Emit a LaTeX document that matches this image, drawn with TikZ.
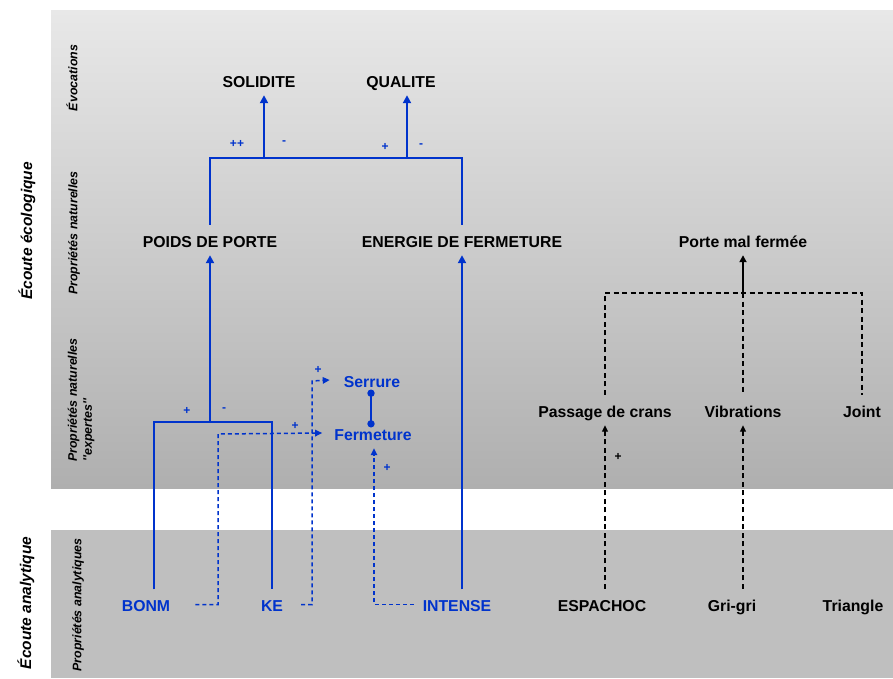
\documentclass[tikz,border=0pt]{standalone}
\usepackage{fontspec}
\setmainfont{Liberation Sans}
\newfontfamily\rawfont{Liberation Sans}[Ligatures=TeXOff]
\usetikzlibrary{arrows.meta,calc}
\definecolor{dblue}{RGB}{0,51,204}
\definecolor{bgtop}{RGB}{232,232,232}
\definecolor{bgbot}{RGB}{175,175,175}
\definecolor{bgana}{RGB}{191,191,191}
\begin{document}
\begin{tikzpicture}[x=1pt,y=-1pt,
 lbl/.style={font=\fontsize{15.8}{18}\selectfont\bfseries, text height=17pt, text depth=3pt, inner ysep=5pt, inner xsep=2pt, anchor=base},
 bluelbl/.style={lbl, text=dblue},
 sign/.style={font=\fontsize{12}{14}\selectfont\bfseries, inner sep=0pt},
 bluesign/.style={sign, text=dblue},
 rowlbl/.style={font=\fontsize{12.4}{15}\selectfont\bfseries\itshape, rotate=90, inner sep=0pt},
 biglbl/.style={font=\fontsize{15.5}{18}\selectfont\bfseries\itshape, rotate=90, inner sep=0pt},
 bsolid/.style={draw=dblue, line width=2.5pt},
 bsarrow/.style={bsolid, -{Triangle[length=8pt,width=8pt]}},
 bdash/.style={draw=dblue, line width=1.5pt, dash pattern=on 4pt off 3pt},
 bdarrow/.style={bdash, -{Triangle[length=7pt,width=6.5pt]}},
 ksarrow/.style={draw=black, line width=1.9pt, -{Triangle[length=7pt,width=7pt]}},
 kdash/.style={draw=black, line width=1.3pt, dash pattern=on 5pt off 3.5pt},
 kdarrow/.style={kdash, -{Triangle[length=6.5pt,width=6pt]}},
]
% background
\fill[white] (0,0) rectangle (893,678);
\shade[top color=bgtop, bottom color=bgbot] (51,10) rectangle (893,488);
\fill[bgana] (51,530) rectangle (893,678);
\useasboundingbox (0,0) rectangle (893,678);

% side labels
\node[biglbl] (ecol) at (27,231) {Écoute écologique};
\node[biglbl] (anal) at (26,603) {Écoute analytique};
\node[rowlbl] (evoc) at (72,78) {Évocations};
\node[rowlbl] (pnat) at (74,233) {Propriétés naturelles};
\node[rowlbl, align=left] (pexp) at (81,400) {Propriétés naturelles\\\rawfont''expertes''};
\node[rowlbl] (pana) at (78,605) {Propriétés analytiques};

% nodes
\node[lbl] (solidite) at (259,87) {SOLIDITE};
\node[lbl] (qualite) at (401,87) {QUALITE};
\node[lbl] (poids) at (210,247) {POIDS DE PORTE};
\node[lbl] (energie) at (462,247) {ENERGIE DE FERMETURE};
\node[lbl] (porte) at (743,247) {Porte mal fermée};
\node[bluelbl] (serrure) at (372,387) {Serrure};
\node[bluelbl] (fermeture) at (373,440) {Fermeture};
\node[lbl] (passage) at (605,417) {Passage de crans};
\node[lbl] (vibr) at (743,417) {Vibrations};
\node[lbl] (joint) at (862,417) {Joint};
\node[bluelbl] (bonm) at (146,611.5) {BONM};
\node[bluelbl] (ke) at (272,611.5) {KE};
\node[bluelbl] (intense) at (457,611.5) {INTENSE};
\node[lbl] (espachoc) at (602,611) {ESPACHOC};
\node[lbl] (grigri) at (732,611) {Gri-gri};
\node[lbl] (triangle) at (853,611) {Triangle};

% top tree
\coordinate (sj) at (264,158);
\coordinate (qj) at (407,158);
\coordinate (tl) at (210,158);
\coordinate (tr) at (462,158);
\draw[bsolid] (poids.north) -- (tl) -- (tr) -- (energie.north);
\draw[bsarrow] (sj) -- (solidite.south -| sj);
\draw[bsarrow] (qj) -- (qualite.south -| qj);

% lower-left tree
\coordinate (ml) at (154,422);
\coordinate (mr) at (272,422);
\coordinate (mj) at (210,422);
\draw[bsolid] (bonm.north -| ml) -- (ml) -- (mr) -- (ke.north);
\draw[bsarrow] (mj) -- (poids.south);
\draw[bsarrow] (intense.north -| energie.south) -- (energie.south);

% dashed blue
\coordinate (bd) at (218,434);
\draw[bdarrow] ([xshift=23pt]bonm.east) -| (bd) -- ([xshift=-10pt]fermeture.west);
\coordinate (kd) at (312,381);
\draw[bdarrow] ([xshift=16pt]ke.east) -| (kd) -- ([xshift=-12pt]serrure.west);
\coordinate (id) at (374,604.5);
\draw[bdarrow] ([xshift=-7pt]intense.west) -- (id) -- (fermeture.south -| id);

% serrure - fermeture link
\coordinate (sx) at (371,0);
\coordinate (d1) at ($(serrure.south -| sx)+(0,-2)$);
\coordinate (d2) at ($(fermeture.north -| sx)+(0,6)$);
\draw[dblue, line width=2.2pt] (d1) -- (d2);
\fill[dblue] (d1) circle (3.7pt);
\fill[dblue] (d2) circle (3.7pt);

% right tree
\coordinate (rl) at (605,293);
\coordinate (rm) at (743,293);
\coordinate (rr) at (862,293);
\draw[kdash] (passage.north) -- (rl) -- (rr) -- (joint.north);
\draw[kdash] (rm) -- (vibr.north);
\draw[ksarrow] (rm) -- (porte.south);
\draw[kdarrow] (espachoc.north -| passage.south) -- (passage.south);
\draw[kdarrow] (grigri.north -| vibr.south) -- (vibr.south);

% signs
\node[bluesign] (s1) at (237,144) {++};
\node[bluesign] (s2) at (284,143) {-};
\node[bluesign] (s3) at (385,147) {+};
\node[bluesign] (s4) at (421,146) {-};
\node[bluesign] (s5) at (187,411) {+};
\node[bluesign] (s6) at (224,410) {-};
\node[bluesign] (s7) at (295,426) {+};
\node[bluesign] (s8) at (318,370) {+};
\node[bluesign] (s9) at (387,468) {+};
\node[sign] (s10) at (618,457) {+};
\end{tikzpicture}
\end{document}
